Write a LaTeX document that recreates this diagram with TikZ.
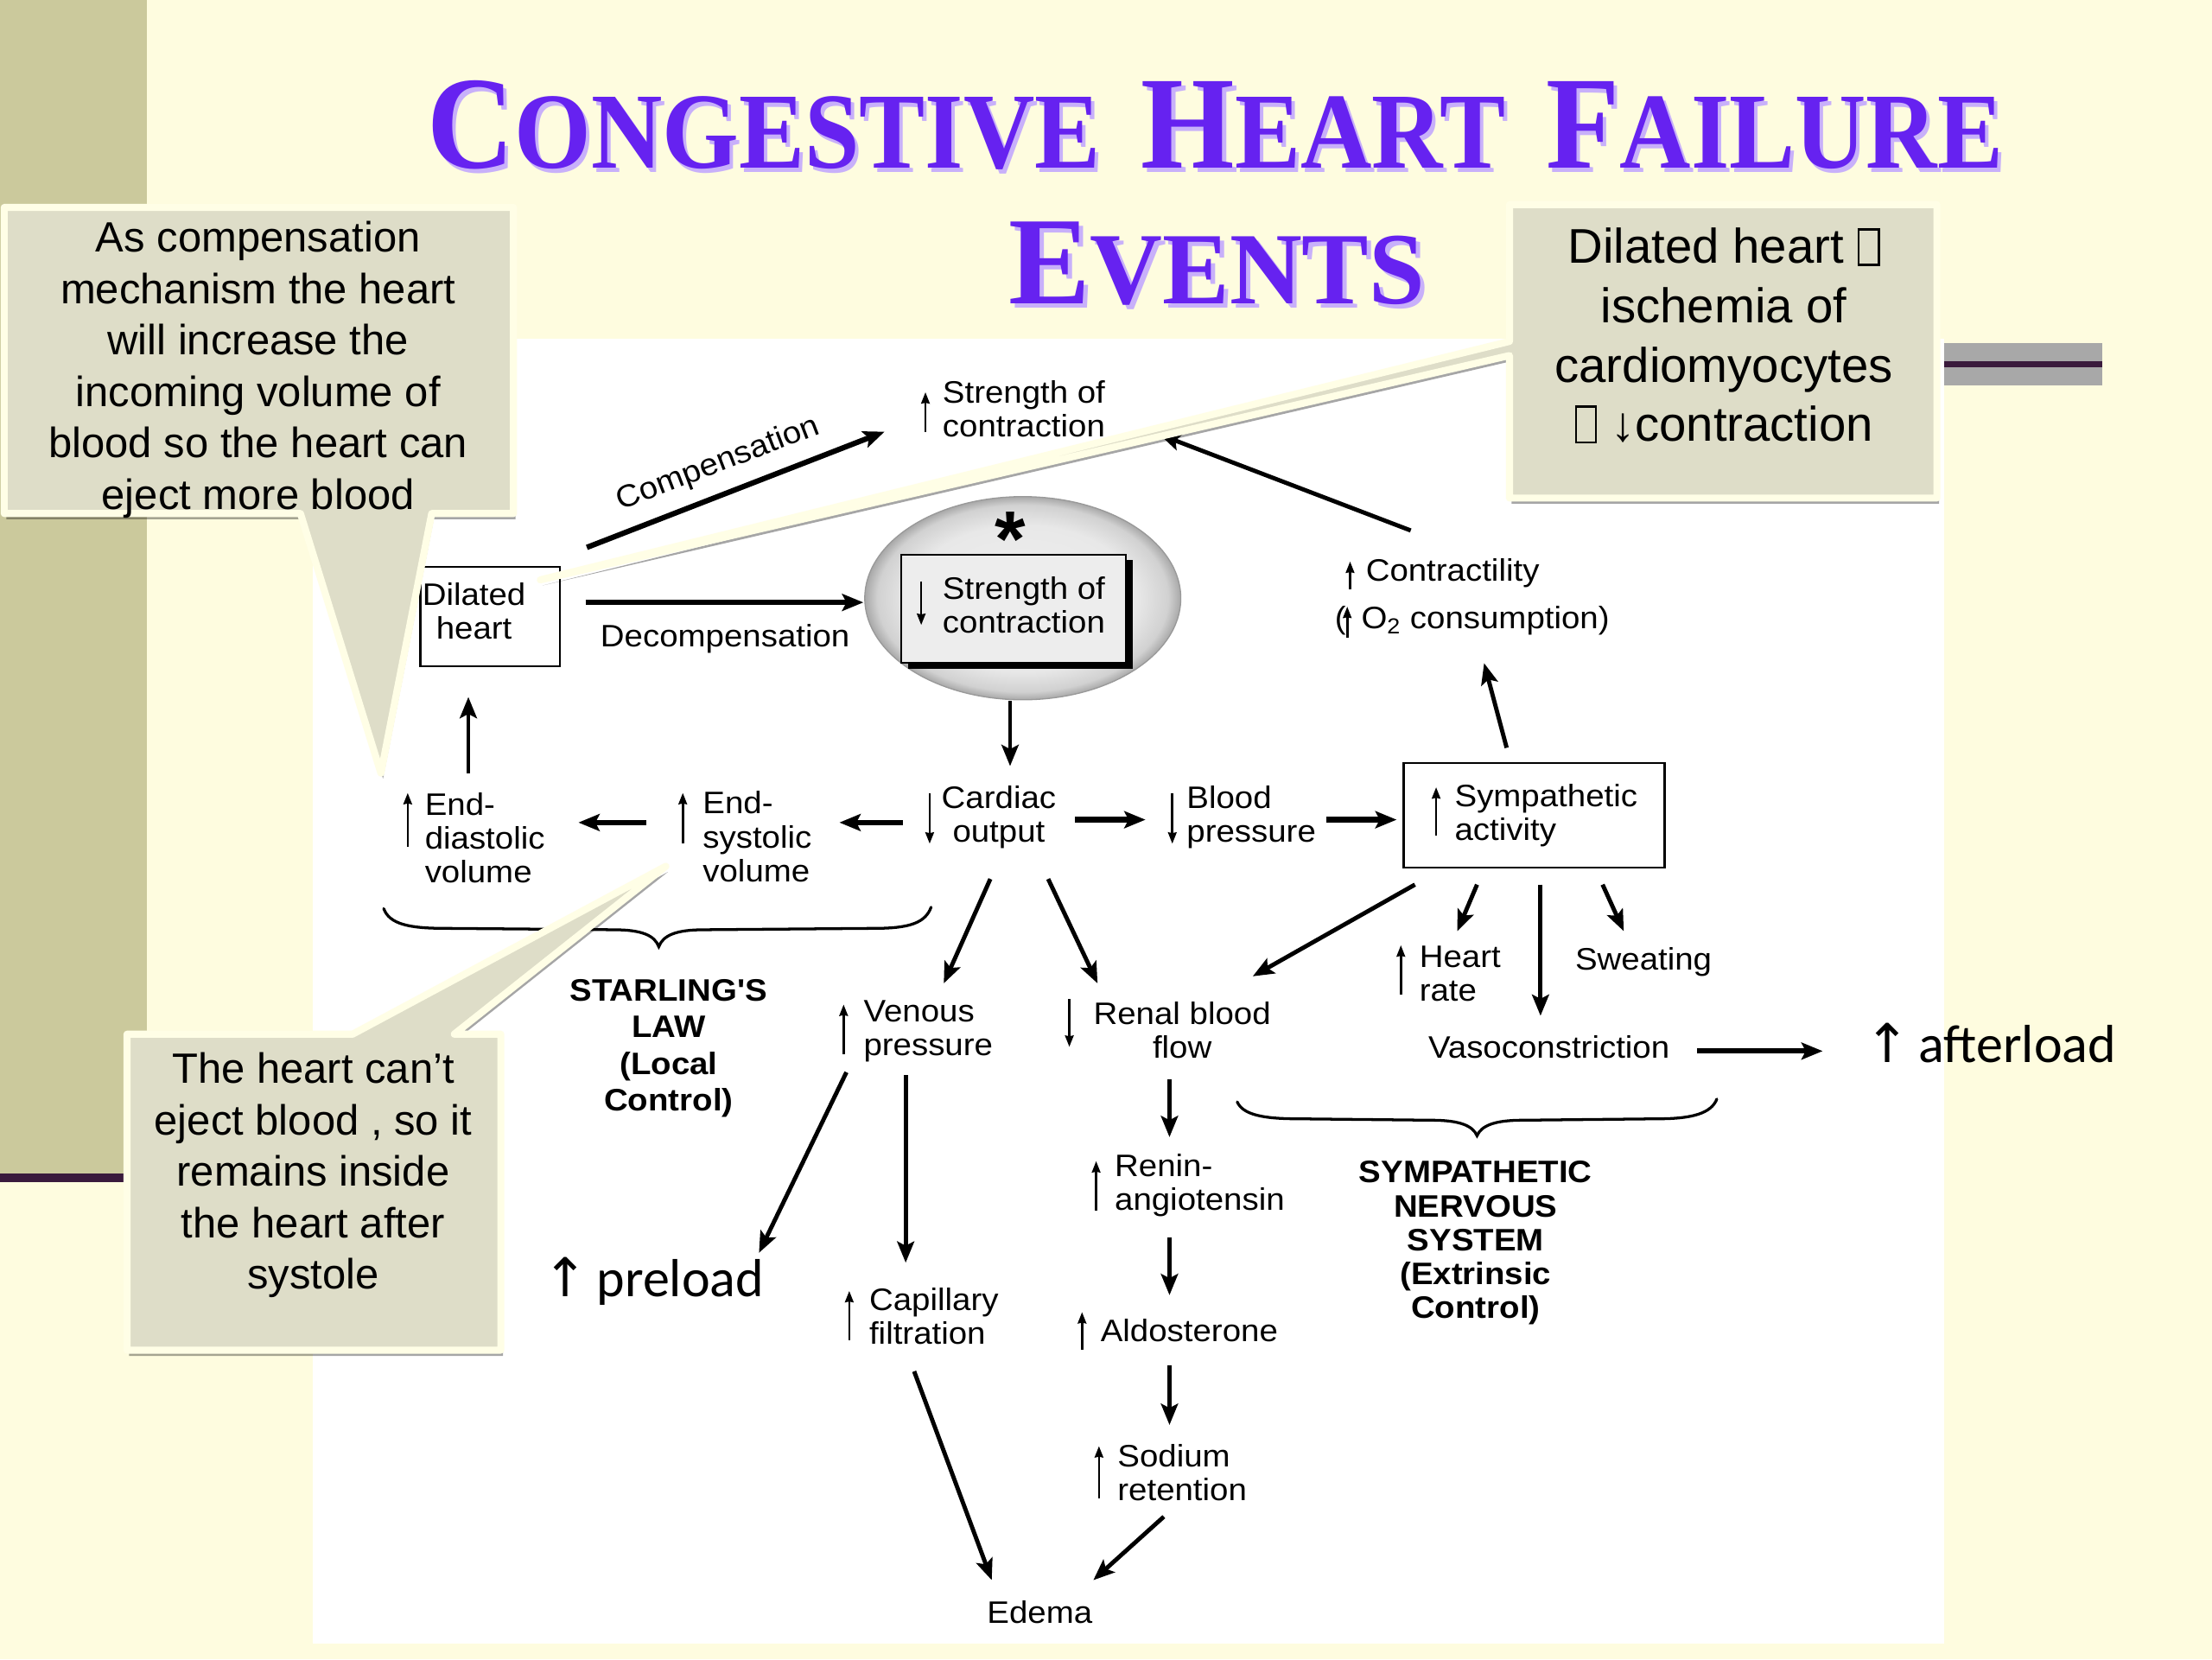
\documentclass[tikz,border=0pt]{standalone}
\usepackage{fontspec}
\usepackage{graphicx}
\setmainfont{Liberation Sans}
\newfontfamily\diagfont{Liberation Sans}[FakeStretch=1.07]
\newfontfamily\titlefont{Liberation Serif}
\newfontfamily\califont{Carlito}
\newfontfamily\arrowfont{DejaVu Sans}
\usetikzlibrary{arrows.meta,calc,shadows,shapes.geometric}

\definecolor{creambg}{HTML}{FEFCDF}
\definecolor{olivebar}{HTML}{CBC99C}
\definecolor{darkline}{HTML}{3A1A3C}
\definecolor{bandgray}{HTML}{A8A8A8}
\definecolor{calfill}{HTML}{DEDDC8}
\definecolor{calborder}{HTML}{FFFEE6}
\definecolor{titlepurple}{RGB}{102,34,240}
\definecolor{titleshadow}{RGB}{200,176,250}

\pgfdeclareradialshading{ellshade}{\pgfpoint{0bp}{0bp}}{color(0bp)=(black!6); color(18bp)=(black!9); color(23bp)=(black!18); color(25bp)=(black!34); color(50bp)=(black!34)}

\newcommand\tofu{{\fboxsep=0pt\fboxrule=0.05em\fbox{\rule{0pt}{0.68em}\hspace{0.36em}}}}
\newcommand\TitBig[1]{{\fontsize{94}{94}\selectfont #1}}
\newcommand\TitSm[1]{{\fontsize{77}{77}\selectfont #1}}
\newcommand\titleone{\titlefont\bfseries\TitBig{C}\TitSm{ONGESTIVE}\hspace{32pt}\TitBig{H}\TitSm{EART}\hspace{32pt}\TitBig{F}\TitSm{AILURE}}
\newcommand\titletwo{\titlefont\bfseries\TitBig{E}\TitSm{VENTS}}

\tikzset{
  arr/.style={line width=3pt,-{Stealth[length=15pt,width=12pt,inset=3pt]}},
  thickarr/.style={arr,line width=3.8pt},
  sarr/.style={line width=1.6pt,-{Stealth[length=8pt,width=6pt,inset=0.5pt]}},
  lbl/.style={font=\diagfont\fontsize{22}{24}\selectfont,inner sep=0pt,align=left},
  lblc/.style={lbl,align=center},
  blbl/.style={font=\diagfont\bfseries\fontsize{22}{26}\selectfont,inner sep=0pt,align=center},
  callout/.style={fill=calfill,draw=calborder,line width=5pt,line join=round,
     drop shadow={shadow xshift=1.5pt,shadow yshift=-4pt,opacity=0.35,fill=black}},
  caltext/.style={inner sep=0pt,align=center,font=\fontsize{30}{36.5}\selectfont},
  bigtext/.style={inner sep=0pt,font=\califont\fontsize{38}{40}\selectfont},
  brace/.style={line width=2pt,line cap=round},
  framebox/.style={draw,line width=1.3pt,inner sep=0pt},
}

\begin{document}
\begin{tikzpicture}[x=1pt,y=-1pt]
\useasboundingbox (0,0) rectangle (1568,1176);
% slide background
\fill[creambg] (0,0) rectangle (1568,1176);
\fill[olivebar] (0,0) rectangle (104,832);
\fill[darkline] (0,832) rectangle (96,838);
\fill[bandgray] (1378,243) rectangle (1490,273);
\fill[darkline] (1378,256) rectangle (1490,260);
\fill[white] (222,240) rectangle (1378,1165);

% title
\node[inner sep=0pt,text=titleshadow] (titleAsh) at (864,92) {\resizebox{1117pt}{62pt}{\titleone}};
\node[inner sep=0pt,text=titlepurple] (titleA) at (861.5,89) {\resizebox{1117pt}{62pt}{\titleone}};
\node[inner sep=0pt,text=titleshadow] (titleBsh) at (865.5,190) {\resizebox{295pt}{58pt}{\titletwo}};
\node[inner sep=0pt,text=titlepurple] (titleB) at (862.5,187) {\resizebox{295pt}{58pt}{\titletwo}};

% diagram nodes
\node[lbl,anchor=west] (tSOC) at (668,290) {Strength of\\contraction};
\node[framebox,minimum width=99pt,minimum height=70pt] (dil) at (347.5,437) {};
\node[lblc] (dilt) at (336,433) {Dilated\\heart};
\node[lblc,rotate=21] (compl) at (509,329) {Compensation};
\node[lblc] (decompl) at (514,453) {Decompensation};
\node[ellipse,draw=black!40,line width=0.8pt,shading=ellshade,minimum width=224pt,minimum height=144pt,inner sep=0pt] (ell) at (725,424) {};
\node[inner sep=0pt,font=\bfseries\fontsize{56}{56}\selectfont] (ast) at (716,382) {*};
\node[framebox,fill=black!7,minimum width=159pt,minimum height=77pt,
  drop shadow={shadow xshift=5pt,shadow yshift=-4pt,opacity=1,fill=black}] (bSOC) at (718.5,431.5) {};
\node[lbl,anchor=west] (bSOCt) at (668,429) {Strength of\\contraction};

\node[lbl,anchor=west] (edv) at (301,594) {End-\\diastolic\\volume};
\node[lbl,anchor=west] (esv) at (498,593) {End-\\systolic\\volume};
\node[lblc] (co) at (708,579) {Cardiac\\output};
\node[lbl,anchor=west] (bp) at (841,579) {Blood\\pressure};
\node[framebox,minimum width=185pt,minimum height=74pt] (sym) at (1087.5,578) {};
\node[lbl,anchor=west] (symt) at (1031,578) {Sympathetic\\activity};
\node[lbl,anchor=west] (con) at (946,423) {\hspace*{22pt}Contractility\\[10pt](\hspace*{11pt}O\textsubscript{2} consumption)};

\node[blbl] (starl) at (474,743) {STARLING'S\\LAW\\(Local\\Control)};
\node[blbl,font=\diagfont\bfseries\fontsize{22}{24}\selectfont] (sns) at (1046,881) {SYMPATHETIC\\NERVOUS\\SYSTEM\\(Extrinsic\\Control)};

\node[lbl,anchor=west] (ven) at (612,731) {Venous\\pressure};
\node[lblc] (rbf) at (838,730) {Renal blood\\flow};
\node[lbl,anchor=west] (hr) at (1006,690) {Heart\\rate};
\node[lbl] (swe) at (1165,682) {Sweating};
\node[lbl] (vaso) at (1098,742) {Vasoconstriction};
\node[bigtext,anchor=west] (aft) at (1322,739) {{\arrowfont ↑}\hspace{6pt}afterload};
\node[bigtext,anchor=west] (pre) at (385,908) {{\arrowfont ↑}\hspace{6pt}preload};
\node[lbl,anchor=west] (cap) at (616,933) {Capillary\\filtration};
\node[lbl] (ede) at (737,1143) {Edema};
\node[lbl,anchor=west] (ren) at (790,840) {Renin-\\angiotensin};
\node[lbl,anchor=west] (ald) at (780,943) {Aldosterone};
\node[lbl,anchor=west] (sod) at (792,1044) {Sodium\\retention};

% connectors
\draw[thickarr] ($(dil.center)+(68.5,-49)$) -- ($(tSOC.west)+(-41,16)$);
\draw[thickarr] ($(dil.center)+(67.5,-10)$) -- ($(ell.center)+(-113,3)$);
\draw[arr] ($(con.west)+(54,-47)$) -- ($(tSOC.west)+(154,18)$);
\draw[arr] ($(ell.center)+(-9,73)$) -- ($(co.center)+(8,-36)$);
\draw[thickarr] ($(co.center)+(-68,4)$) -- ($(esv.west)+(97,-10)$);
\draw[thickarr] ($(esv.west)+(-40,-10)$) -- ($(edv.west)+(109,-11)$);
\draw[arr] ($(edv.west)+(31,-46)$) -- ($(dil.center)+(-15.5,57)$);
\draw[thickarr] ($(co.center)+(54,2)$) -- ($(bp.west)+(-29,2)$);
\draw[thickarr] ($(bp.west)+(99,2)$) -- ($(sym.center)+(-97.5,3)$);
\draw[arr] ($(sym.center)+(-19.5,-48)$) -- ($(con.west)+(106,47)$);
\draw[arr] ($(co.center)+(-6,44)$) -- ($(ven.west)+(57,-34)$);
\draw[arr] ($(co.center)+(35,44)$) -- ($(rbf.center)+(-60,-33)$);
\draw[arr] ($(sym.center)+(-84.5,49)$) -- ($(rbf.center)+(50,-38)$);
\draw[arr] ($(sym.center)+(-40.5,49)$) -- ($(hr.west)+(27,-30)$);
\draw[arr] ($(sym.center)+(4.5,49)$) -- ($(vaso.center)+(-6,-22)$);
\draw[arr] ($(sym.center)+(48.5,49)$) -- ($(swe.center)+(-14,-22)$);
\draw[thickarr] ($(vaso.center)+(105,3)$) -- ($(aft.west)+(-30,6)$);
\draw[arr] ($(ven.west)+(-12,29)$) -- ($(pre.west)+(153,-20)$);
\draw[arr] ($(ven.west)+(30,31)$) -- ($(cap.west)+(26,-38)$);
\draw[arr] ($(cap.west)+(32,39)$) -- ($(ede.center)+(-34,-23)$);
\draw[arr] ($(rbf.center)+(-9,35)$) -- ($(ren.west)+(39,-34)$);
\draw[arr] ($(ren.west)+(39,37)$) -- ($(ald.west)+(49,-25)$);
\draw[arr] ($(ald.west)+(49,25)$) -- ($(sod.west)+(37,-34)$);
\draw[arr] ($(sod.west)+(33,31)$) -- ($(ede.center)+(38,-23)$);

% small up/down signs in the labels
\draw[sarr] ($(tSOC.west)+(-12,16)$) -- ($(tSOC.west)+(-12,-12)$);
\draw[sarr] ($(bSOCt.west)+(-15,-17)$) -- ($(bSOCt.west)+(-15,14)$);
\draw[sarr] ($(edv.west)+(-12,6)$) -- ($(edv.west)+(-12,-32)$);
\draw[sarr] ($(esv.west)+(-14,5)$) -- ($(esv.west)+(-14,-31)$);
\draw[sarr] ($(co.center)+(-49,-17)$) -- ($(co.center)+(-49,19)$);
\draw[sarr] ($(bp.west)+(-10,-17)$) -- ($(bp.west)+(-10,19)$);
\draw[sarr] ($(symt.west)+(-13,14)$) -- ($(symt.west)+(-13,-20)$);
\draw[sarr] ($(con.west)+(11,-5)$) -- ($(con.west)+(11,-25)$);
\draw[sarr] ($(con.west)+(9,29)$) -- ($(con.west)+(9,7)$);
\draw[sarr] ($(hr.west)+(-13,15)$) -- ($(hr.west)+(-13,-20)$);
\draw[sarr] ($(ven.west)+(-14,16)$) -- ($(ven.west)+(-14,-19)$);
\draw[sarr] ($(rbf.center)+(-80,-22)$) -- ($(rbf.center)+(-80,12)$);
\draw[sarr] ($(cap.west)+(-14,17)$) -- ($(cap.west)+(-14,-18)$);
\draw[sarr] ($(ren.west)+(-13,18)$) -- ($(ren.west)+(-13,-17)$);
\draw[sarr] ($(ald.west)+(-13,14)$) -- ($(ald.west)+(-13,-13)$);
\draw[sarr] ($(sod.west)+(-13,18)$) -- ($(sod.west)+(-13,-19)$);

% braces
\draw[brace] (272,644) .. controls (276,655) and (290,658) .. (315,658) -- (435,659) .. controls (455,659) and (464,663) .. (467,671) .. controls (470,663) and (479,659) .. (499,659) -- (620,658) .. controls (645,658) and (656,654) .. (660,643);
\draw[brace] (877,781) .. controls (881,790) and (895,793) .. (920,793) -- (1015,794) .. controls (1035,794) and (1044,798) .. (1047,805) .. controls (1050,798) and (1059,794) .. (1079,794) -- (1175,793) .. controls (1200,793) and (1213,789) .. (1217,779);

% callouts
\draw[callout] (3,147) -- (364,147) -- (364,364) -- (306,364) -- (270,548) -- (213,364) -- (3,364) -- cycle;
\node[caltext] (c1t) at (183,262) {As compensation\\mechanism the heart\\will increase the\\incoming volume of\\blood so the heart can\\eject more blood};
\draw[callout] (1070,145) -- (1373,145) -- (1373,353) -- (1070,353) -- (1070,252) -- (383,411) -- (1070,242) -- cycle;
\node[caltext,font=\fontsize{34.5}{42}\selectfont] (c2t) at (1222,238) {Dilated heart \tofu\\ischemia of\\cardiomyocytes\\\tofu\ ↓contraction};
\draw[callout] (90,733) -- (250,733) -- (472,614) -- (322,733) -- (355,733) -- (355,957) -- (90,957) -- cycle;
\node[caltext] (c3t) at (222,833) {The heart can’t\\eject blood , so it\\remains inside\\the heart after\\systole};
\end{tikzpicture}
\end{document}
